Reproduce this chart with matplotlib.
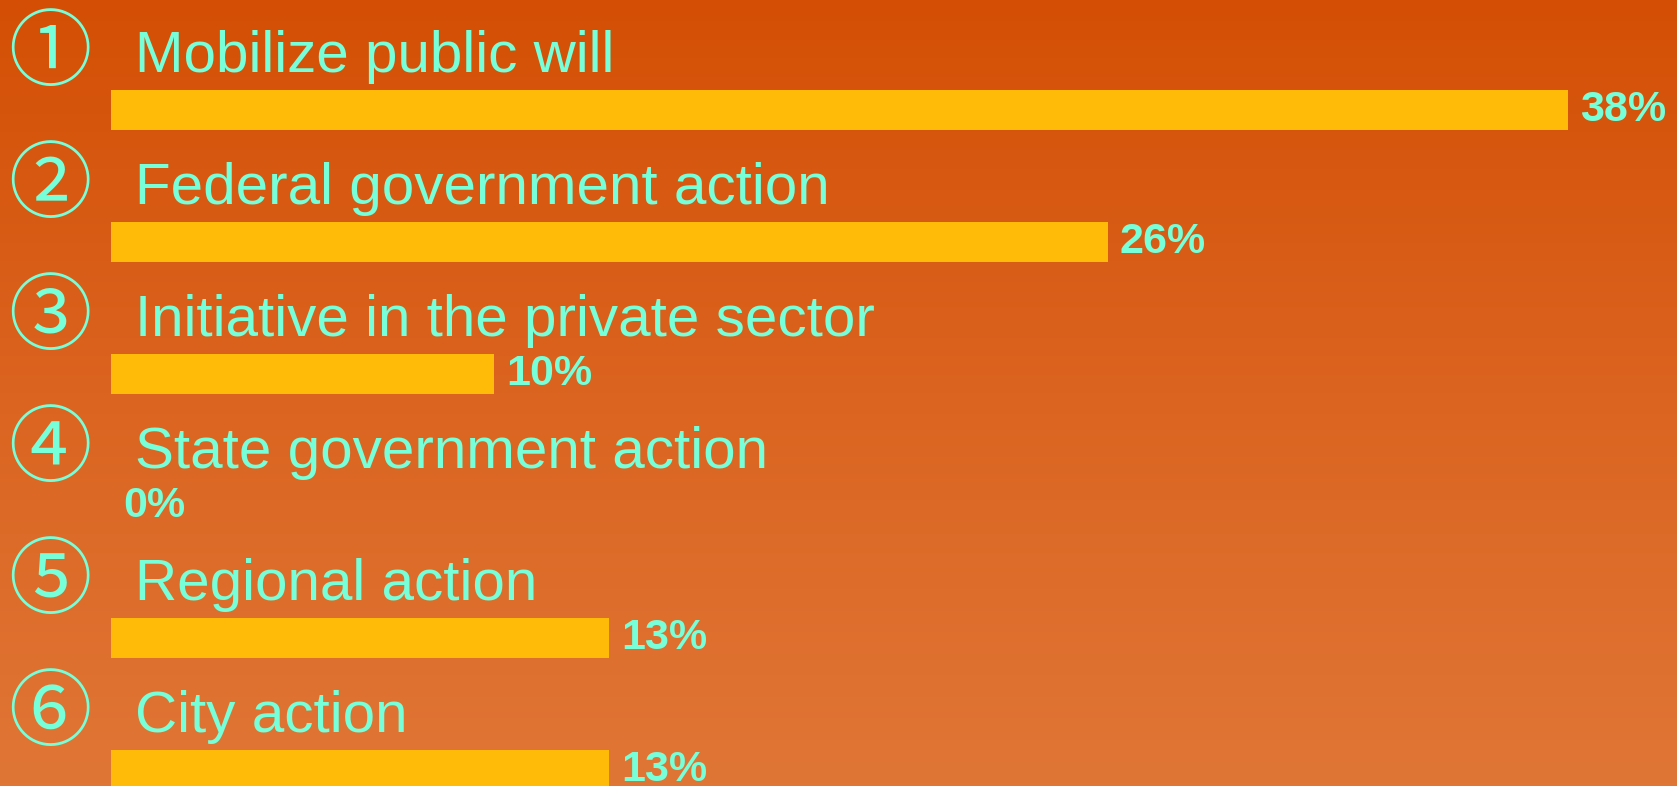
import matplotlib
matplotlib.use("Agg")
import matplotlib.pyplot as plt
import numpy as np
from matplotlib.colors import LinearSegmentedColormap

categories = ["Mobilize public will", "Federal government action",
              "Initiative in the private sector", "State government action",
              "Regional action", "City action"]
markers = ["①", "②", "③", "④", "⑤", "⑥"]
values = [38, 26, 10, 0, 13, 13]
value_labels = ["38%", "26%", "10%", "0%", "13%", "13%"]

W, H, DPI = 1677, 786, 100
fig = plt.figure(figsize=(W / DPI, H / DPI), dpi=DPI)

# gradient background
bg = fig.add_axes([0, 0, 1, 1], zorder=0)
cmap = LinearSegmentedColormap.from_list("bg", ["#D44F05", "#DB6420", "#E07636"])
grad = np.linspace(0, 1, 256).reshape(-1, 1)
bg.imshow(grad, aspect="auto", cmap=cmap, extent=[0, 1, 0, 1], origin="upper")
bg.axis("off")

ax = fig.add_axes([0, 0, 1, 1], zorder=1)
ax.patch.set_alpha(0)
ax.axis("off")

x0_px, x38_px = 111, 1568
k = (x38_px - x0_px) / 38.0
ax.set_xlim(-x0_px / k, (W - x0_px) / k)
ax.set_ylim(H, 0)

pitch = 132
first = 110
ys = [first + pitch * i for i in range(len(categories))]
teal = "#76FFD8"
gold = "#FFBB08"

ax.barh(ys, values, height=40, left=0, color=gold, zorder=2)

for i, (y, cat, m, v, lab) in enumerate(zip(ys, categories, markers, values, value_labels)):
    ax.text((50 - x0_px) / k, y - 55, m, fontsize=60, color=teal,
            family=["Noto Sans CJK JP", "DejaVu Sans"], ha="center", va="center", zorder=3)
    ax.text((135 - x0_px) / k, y - 38, cat, fontsize=42, color=teal,
            family="Liberation Sans", ha="left", va="baseline", zorder=3)
    ax.annotate(lab, xy=(v, y), xytext=(8.5, 0), textcoords="offset points",
                fontsize=31, fontweight="bold", color=teal,
                family="Liberation Sans", ha="left", va="center", zorder=3)

fig.savefig("out.png", dpi=DPI)
